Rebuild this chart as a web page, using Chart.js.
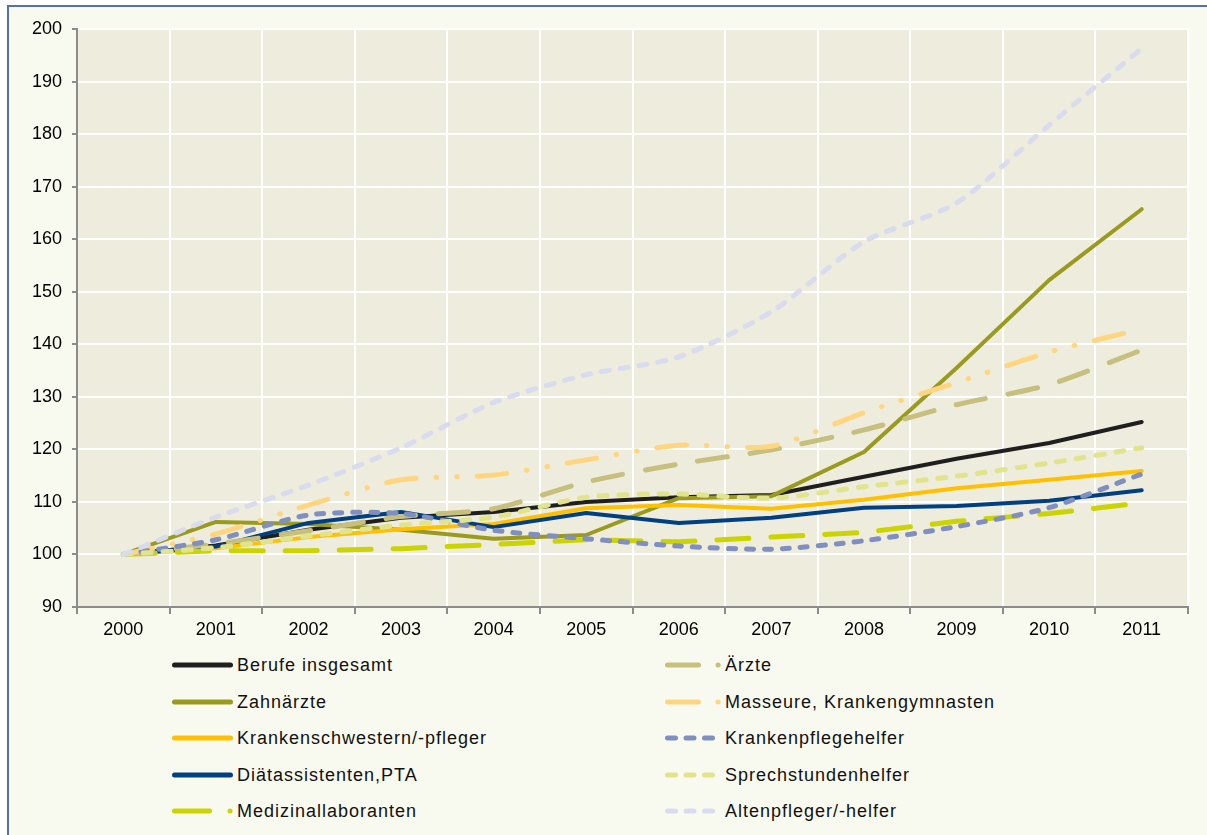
<!DOCTYPE html>
<html>
<head>
<meta charset="utf-8">
<script src="https://cdn.jsdelivr.net/npm/chart.js@4.4.1/dist/chart.umd.min.js"></script>
<style>
  html, body { margin: 0; padding: 0; background: #ffffff; width: 1207px; height: 835px; overflow: hidden; }
  #frame { position: absolute; left: 7px; top: 5px; width: 1230px; height: 860px; border: 2px solid #5370b0; background: #f9faef; box-sizing: border-box; }
  #c { position: absolute; left: 0; top: 0; }
  .leg { position: absolute; height: 22px; }
  .leg svg { position: absolute; top: 0; }
  .leg span { position: absolute; top: 0; line-height: 22px; font-family: "Liberation Sans", Arial, sans-serif; font-size: 18px; letter-spacing: 1px; color: #111; white-space: nowrap; }
</style>
</head>
<body>
<div id="frame"></div>
<canvas id="c" width="1207" height="647"></canvas>
<div id="legend"></div>
<script>
// Index 2000 = 100
const years = ["2000", "2001", "2002", "2003", "2004", "2005", "2006", "2007", "2008", "2009", "2010", "2011"]
const yTicksMin = 90
const yTicksMax = 200

const berufe           = [100, 101.7, 104.7, 107.0, 108.1, 110.0, 110.9, 111.3, 114.8, 118.2, 121.2, 125.2]
const aerzte           = [100, 102.0, 104.5, 107.2, 108.7, 113.8, 117.2, 119.9, 123.7, 128.5, 132.3, 138.9]
const zahnaerzte       = [100, 106.2, 105.8, 104.7, 103.0, 103.7, 110.7, 111.1, 119.5, 135.5, 152.2, 165.7]
const masseure         = [100, 103.9, 109.4, 114.2, 115.1, 118.0, 120.8, 120.6, 127.0, 132.7, 138.5, 142.9]
const krankenschwester = [100, 101.2, 103.3, 104.8, 105.8, 108.8, 109.4, 108.7, 110.4, 112.6, 114.2, 115.9]
const pflegehelfer     = [100, 102.8, 107.5, 107.8, 104.6, 103.0, 101.6, 101.0, 102.6, 105.3, 108.9, 115.3]
const diaet            = [100, 101.5, 106.0, 108.1, 105.2, 107.9, 106.0, 107.0, 108.9, 109.2, 110.2, 112.2]
const sprechstunden    = [100, 101.3, 103.5, 105.6, 107.1, 110.9, 111.5, 110.7, 112.9, 114.9, 117.4, 120.3]
const medizinal        = [100, 100.7, 100.7, 101.1, 101.9, 102.8, 102.4, 103.3, 104.2, 106.3, 107.8, 109.8]
const altenpfleger     = [100, 107.1, 113.2, 120.3, 128.9, 134.2, 137.6, 146.2, 159.5, 166.9, 181.7, 196.3]

const FONT = "'Liberation Sans', Arial, sans-serif"

// legend order (row-major, two columns); z = stacking, higher drawn on top
const series = [
  { label: "Berufe insgesamt",           data: berufe,           color: "#1f1f1f", width: 4, dash: [],                         z: 1 },
  { label: "Ärzte",                      data: aerzte,           color: "#c6bf7e", width: 5, dash: [30, 23],                   z: 6,  legDash: "31 19.5 0.1 100", smooth: true },
  { label: "Zahnärzte",                  data: zahnaerzte,       color: "#9a9b1e", width: 4, dash: [],                         z: 2 },
  { label: "Masseure, Krankengymnasten", data: masseure,         color: "#ffd580", width: 5, dash: [30, 20, 0.5, 20, 0.5, 20], z: 7,  legDash: "31 19.5 0.1 100", smooth: true },
  { label: "Krankenschwestern/-pfleger", data: krankenschwester, color: "#ffc000", width: 4, dash: [],                         z: 3 },
  { label: "Krankenpflegehelfer",        data: pflegehelfer,     color: "#7f8fbf", width: 5, dash: [7, 11],                    z: 8,  legDash: "8 10.5", smooth: true },
  { label: "Diätassistenten,PTA",        data: diaet,            color: "#004080", width: 4, dash: [],                         z: 4 },
  { label: "Sprechstundenhelfer",        data: sprechstunden,    color: "#e1e48a", width: 5, dash: [8, 12],                    z: 9,  legDash: "8 10.5", smooth: true },
  { label: "Medizinallaboranten",        data: medizinal,        color: "#ccd400", width: 5, dash: [32, 22],                   z: 5,  legDash: "35 20.5 0.1 100" },
  { label: "Altenpfleger/-helfer",       data: altenpfleger,     color: "#d9dbee", width: 5, dash: [8, 11],                    z: 10, legDash: "8 10.5", smooth: true }
]

const plotBg = {
  id: "plotBg",
  beforeDraw(chart) {
    const { ctx, chartArea: a } = chart
    ctx.save()
    ctx.fillStyle = "#eeecdc"
    ctx.fillRect(a.left, a.top, a.right - a.left, a.bottom - a.top)
    ctx.restore()
  }
}

new Chart(document.getElementById("c"), {
  type: "line",
  data: {
    labels: years,
    datasets: series.map(s => ({
      label: s.label,
      data: s.data,
      borderColor: s.color,
      backgroundColor: s.color,
      borderWidth: s.width,
      borderDash: s.dash,
      borderCapStyle: "round",
      borderJoinStyle: "round",
      pointRadius: 0,
      tension: s.smooth ? 0.25 : 0,
      order: 11 - s.z
    }))
  },
  options: {
    responsive: false,
    animation: false,
    layout: { padding: { left: 7, top: 29, right: 19, bottom: 0 } },
    plugins: { legend: { display: false }, tooltip: { enabled: false } },
    scales: {
      x: {
        offset: true,
        grid: { offset: true, color: "#ffffff", lineWidth: 2, tickColor: "#8c8c8c", tickLength: 7 },
        border: { color: "#8c8c8c", width: 2 },
        ticks: { color: "#000", font: { family: FONT, size: 18 }, padding: 5, maxRotation: 0, autoSkip: false },
        afterFit(s) { s.height = 40 }
      },
      y: {
        min: yTicksMin,
        max: yTicksMax,
        grid: { color: "#ffffff", lineWidth: 2, tickColor: "#8c8c8c", tickLength: 5 },
        border: { color: "#8c8c8c", width: 2 },
        ticks: { stepSize: 10, color: "#000", font: { family: FONT, size: 18 }, padding: 10 },
        afterFit(s) { s.width = 70 }
      }
    }
  },
  plugins: [plotBg]
})

// two-column legend under the plot, like the original
const legend = document.getElementById("legend")
series.forEach((s, i) => {
  const col = i % 2
  const row = Math.floor(i / 2)
  const x = col === 0 ? 172 : 665
  const w = col === 0 ? 61 : 56
  const textX = col === 0 ? 237 : 725
  const cy = 665 + row * 36.5
  const el = document.createElement("div")
  el.className = "leg"
  el.style.left = x + "px"
  el.style.top = (cy - 11) + "px"
  const dash = s.legDash ? `stroke-dasharray="${s.legDash}"` : ""
  const x2 = s.legDash ? (col === 0 ? 58.5 : (s.legDash.startsWith("8") ? 47.5 : 53.5)) : w - 2.5
  el.innerHTML =
    `<svg width="${w}" height="22" style="left:0"><line x1="2.5" y1="11" x2="${x2}" y2="11" stroke="${s.color}" stroke-width="5" stroke-linecap="round" ${dash}/></svg>` +
    `<span style="left:${textX - x}px">${s.label}</span>`
  legend.appendChild(el)
})
</script>
</body>
</html>
